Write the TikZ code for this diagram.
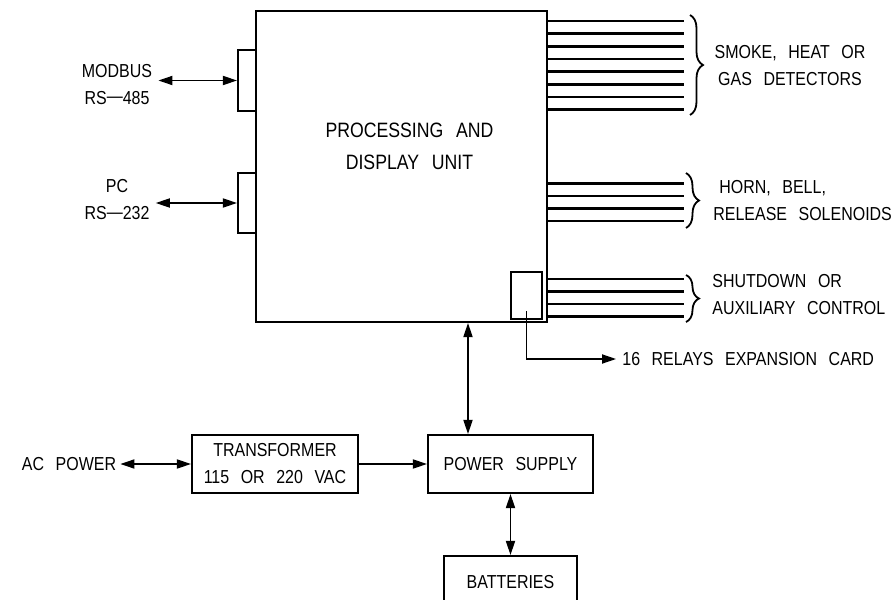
\documentclass[tikz,border=0pt]{standalone}
\usepackage{fontspec}
\setmainfont{Liberation Sans}[FakeStretch=0.85, WordSpace=2.6]
\usepackage{tikz}
\usetikzlibrary{positioning, arrows.meta, calc, decorations.pathreplacing}
\newcommand{\lblfont}{\fontsize{9.4}{13.5}\selectfont}
\newcommand{\bigfont}{\fontsize{10.4}{16}\selectfont}
\newcommand{\cdash}{\raisebox{0.8pt}{---}}

\begin{document}
\begin{tikzpicture}[x=0.5pt, y=-0.5pt,
    every node/.style={font=\lblfont},
    blk/.style={draw, line width=1.1pt, inner sep=0pt},
    sig/.style={line width=1.3pt},
    lbl/.style={align=center, inner sep=3pt},
    dbl/.style={{Triangle[length=7pt, width=4.6pt]}-{Triangle[length=7pt, width=4.6pt]}, line width=0.6pt},
    arr/.style={-{Triangle[length=7pt, width=4.6pt]}, line width=0.6pt},
    brc/.style={decorate, decoration={brace, amplitude=6.5pt}, line width=0.9pt}]
  \useasboundingbox (0,0) rectangle (891,600);

  % TOP: processing and display unit with its ports
  \node[blk, minimum width=9pt, minimum height=30.5pt] (tabA) at (247,80.5) {};
  \node[blk, minimum width=9pt, minimum height=30pt] (tabB) at (247,203) {};
  \node[blk, minimum width=145.5pt, minimum height=155.5pt] (pdu) at (401.5,166.5) {};
  \node[align=center, font=\bigfont] (pdutxt) at (409.5,146) {PROCESSING AND\\DISPLAY UNIT};
  \node[blk, line width=1pt, minimum width=15.5pt, minimum height=23.5pt] (relay) at (526.5,295.5) {};

  \node[lbl] (modbus) at (117,84.5) {MODBUS\\RS\cdash485};
  \node[lbl] (pc) at (117,200) {PC\\RS\cdash232};
  \draw[dbl] (modbus.east |- tabA.west) -- (tabA.west);
  \draw[dbl] (pc.east |- tabB.west) -- (tabB.west);

  % RIGHT: field wiring
  \foreach \y in {21, 33.6, 46.3, 58.9, 71.6, 84.2, 96.9, 109.5} {
    \path (0,\y) coordinate (w);
    \draw[sig] (pdu.east |- w) -- ++(136,0);
  }
  \foreach \y in {183.3, 195.8, 208.3, 220.8, 279, 291.5, 304, 316.5} {
    \path (0,\y) coordinate (w);
    \draw[sig] (pdu.east |- w) -- ++(136,0);
  }
  \draw[brc] (690,15) -- (690,115);
  \draw[brc] (686,173) -- (686,228);
  \draw[brc] (686,275) -- (686,322);
  \node[lbl] (detect) at (790,65.5) {SMOKE, HEAT OR\\GAS DETECTORS};
  \node[lbl, align=left, anchor=west, inner sep=2pt] (horn) at (709,200.5) {\hspace*{3pt}HORN, BELL,\\RELEASE SOLENOIDS};
  \node[lbl, align=left, anchor=west, inner sep=2pt] (shut) at (708,294.5) {SHUTDOWN OR\\AUXILIARY CONTROL};

  \node[anchor=west, inner sep=3pt] (relays) at (616,359) {16 RELAYS EXPANSION CARD};
  \draw[arr] ($(relay.south)+(0,-9)$) |- (relays.west);

  % BOTTOM: power chain
  \node[blk, align=center, minimum width=83pt, minimum height=29pt] (trans) at (275,464) {TRANSFORMER\\115 OR 220 VAC};
  \node[blk, minimum width=82.5pt, minimum height=29pt] (psu) at (510.5,464) {POWER SUPPLY};
  \node[blk, minimum width=66.5pt, minimum height=26pt] (bat) at (510.5,582) {BATTERIES};
  \node[inner sep=2pt] (acpower) at (69,464) {AC POWER};

  \coordinate (bus) at (468,380);
  \draw[dbl] (pdu.south -| bus) -- (psu.north -| bus);
  \draw[dbl] (acpower.east) -- (trans.west);
  \draw[arr] (trans.east) -- (psu.west);
  \draw[dbl] (psu.south) -- (bat.north);
\end{tikzpicture}
\end{document}
